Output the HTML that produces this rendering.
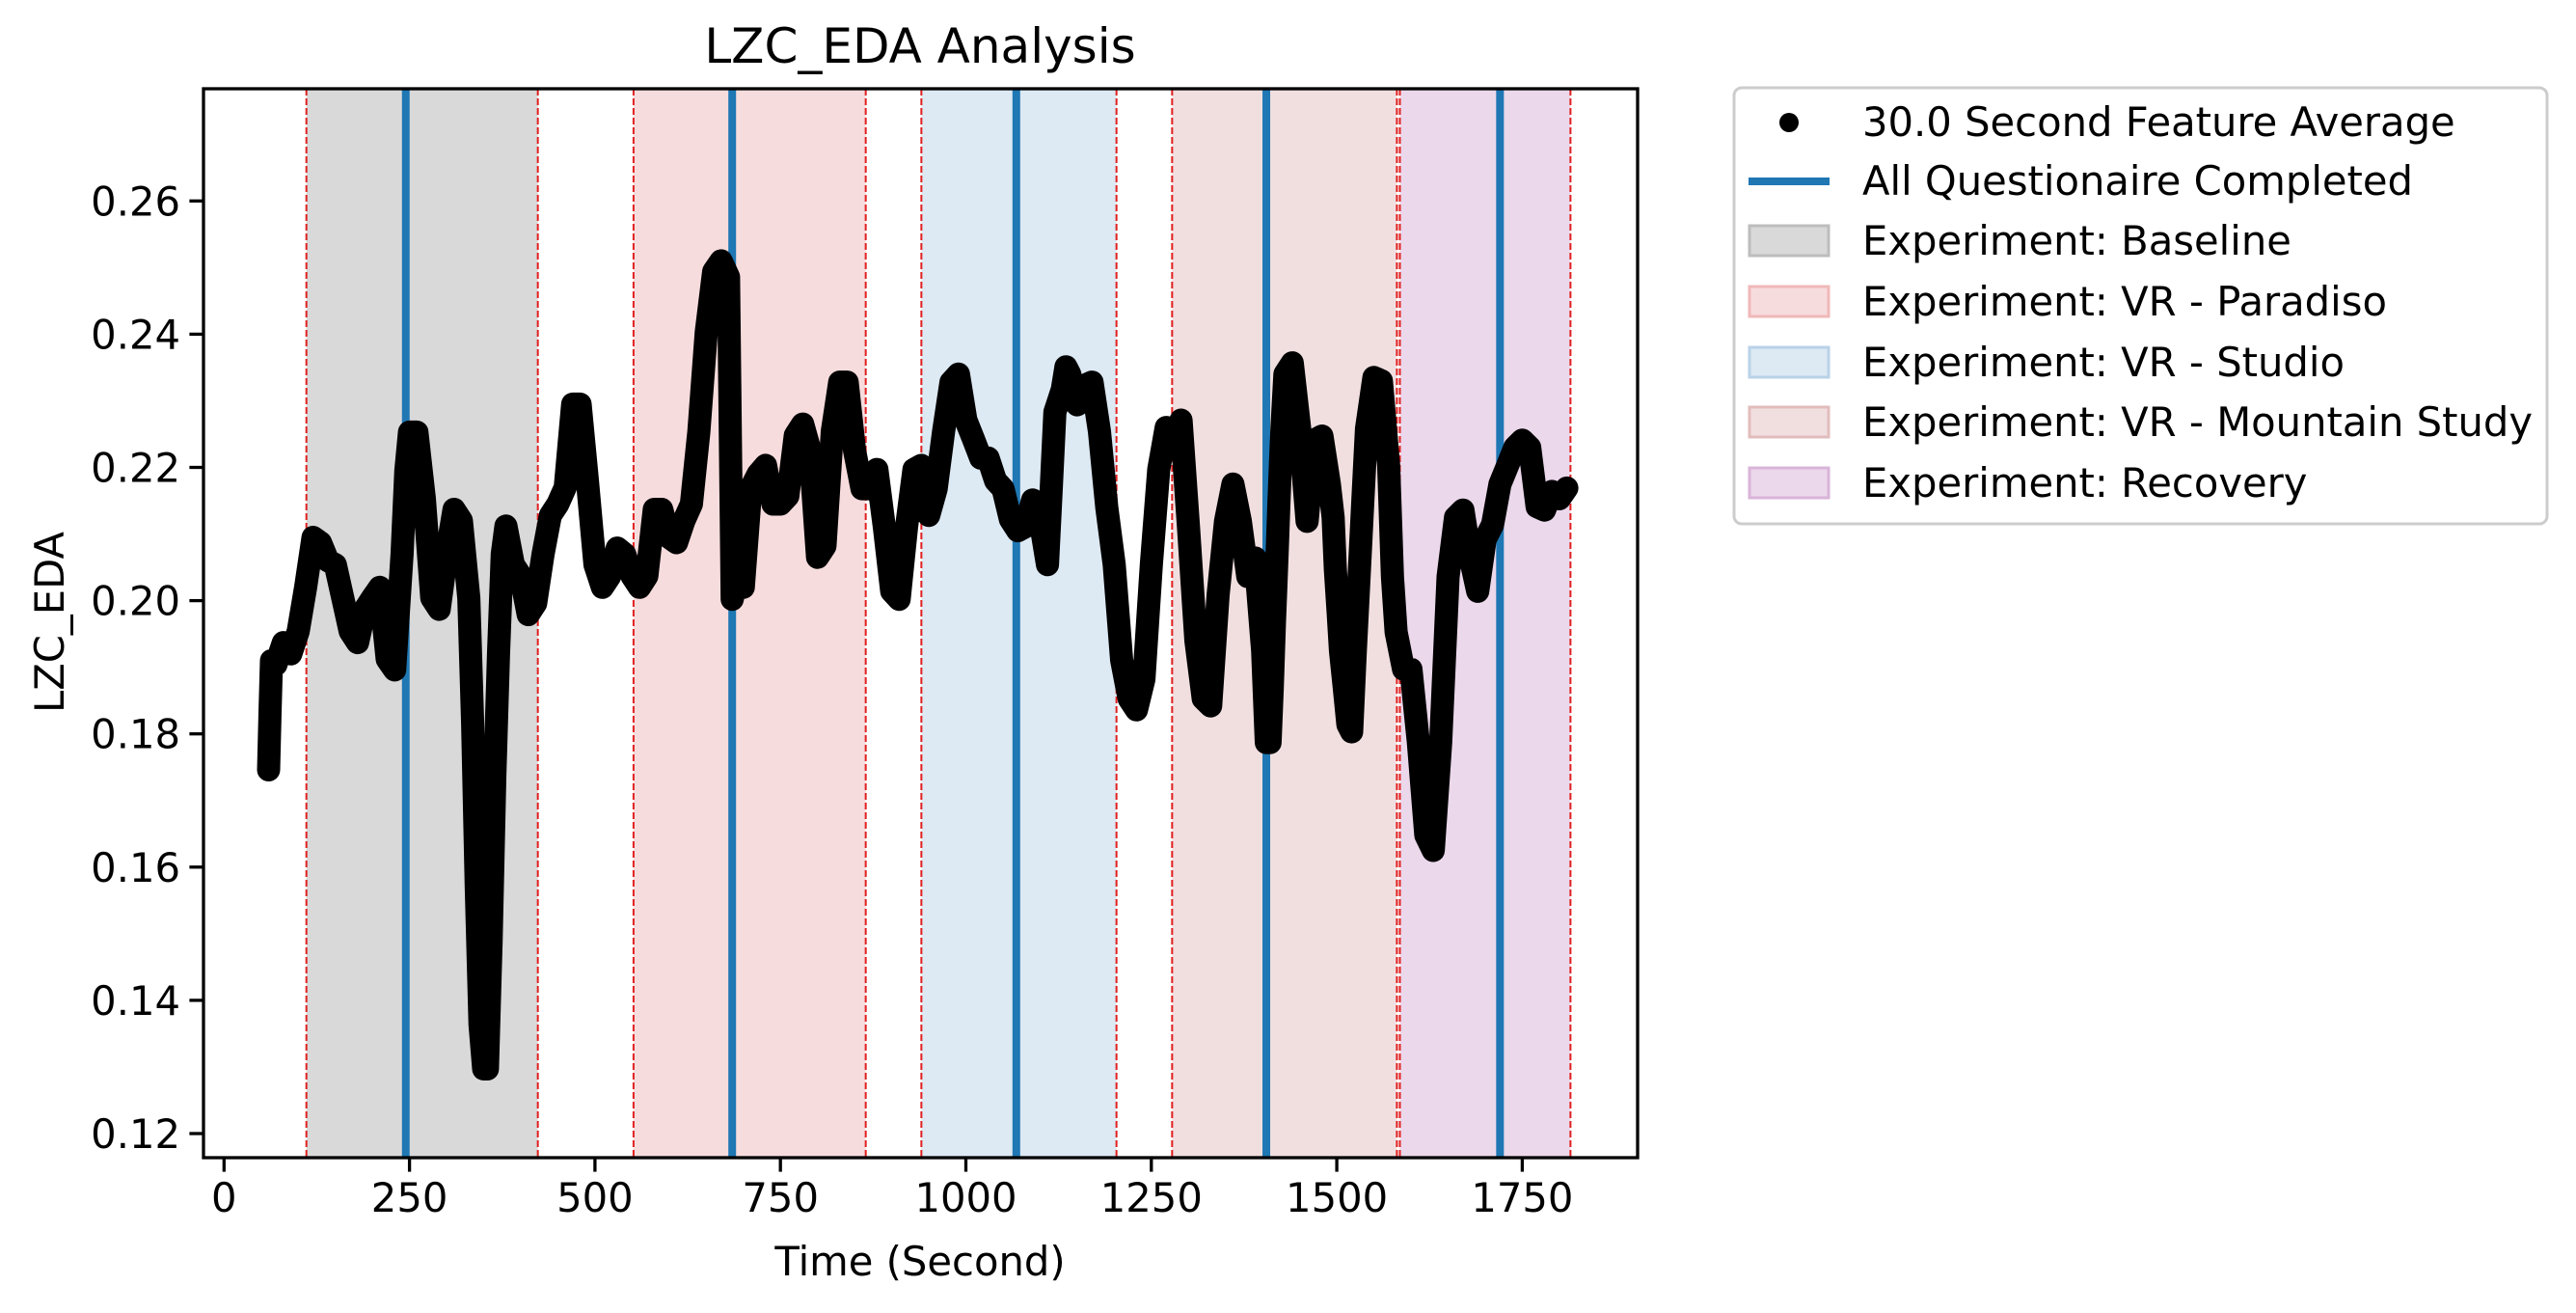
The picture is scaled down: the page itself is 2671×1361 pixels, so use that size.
<!DOCTYPE html>
<html><head><meta charset="utf-8"><style>
html,body{margin:0;padding:0;background:#fff;}
svg{display:block;font-family:"DejaVu Sans","Liberation Sans",sans-serif;}
</style></head><body>
<svg id="chart" width="2671" height="1361" viewBox="0 0 2671 1361" xmlns="http://www.w3.org/2000/svg">
<rect width="2671" height="1361" fill="#fff"/>
<g id="regions"></g><g id="vlines"></g><g id="dots"></g><g id="axes"></g>
<text x="954" y="65" font-size="50" text-anchor="middle">LZC_EDA Analysis</text>
<text x="954" y="1322" font-size="41.7" text-anchor="middle">Time (Second)</text>
<text x="0" y="0" font-size="41.7" text-anchor="middle" transform="translate(66,645) rotate(-90)">LZC_EDA</text>
<g id="legend">
<rect x="1798" y="91" width="843" height="452" rx="8" fill="#fff" stroke="#cccccc" stroke-width="3"/>
<circle cx="1855" cy="127" r="10" fill="#000"/>
<text x="1931" y="141" font-size="41.7">30.0 Second Feature Average</text>
<line x1="1813" y1="188" x2="1897" y2="188" stroke="#1f77b4" stroke-width="8"/>
<text x="1931" y="202" font-size="41.7">All Questionaire Completed</text>
<rect x="1814" y="234" width="82" height="31" fill="#d9d9d9" stroke="#bdbdbd" stroke-width="3"/>
<text x="1931" y="264" font-size="41.7">Experiment: Baseline</text>
<rect x="1814" y="297" width="82" height="31" fill="#f7dcdd" stroke="#f0b8b8" stroke-width="3"/>
<text x="1931" y="327" font-size="41.7">Experiment: VR - Paradiso</text>
<rect x="1814" y="360" width="82" height="31" fill="#dde9f3" stroke="#b9d2e8" stroke-width="3"/>
<text x="1931" y="390" font-size="41.7">Experiment: VR - Studio</text>
<rect x="1814" y="422" width="82" height="31" fill="#f1dfe0" stroke="#e2bcbc" stroke-width="3"/>
<text x="1931" y="452" font-size="41.7">Experiment: VR - Mountain Study</text>
<rect x="1814" y="485" width="82" height="31" fill="#ebd8eb" stroke="#d9b4d9" stroke-width="3"/>
<text x="1931" y="515" font-size="41.7">Experiment: Recovery</text>
</g>
</svg>
<script>
const times = [60,62,64,70,80,90,100,110,120,130,140,150,160,170,180,190,200,210,220,230,240,245,250,260,270,280,290,300,310,320,330,335,340,345,350,355,360,365,370,375,380,390,400,410,420,430,440,450,460,470,480,490,500,510,520,530,540,550,560,570,580,590,600,610,620,630,640,650,660,670,680,685,690,700,710,720,730,740,750,760,770,780,790,800,810,820,830,840,850,860,870,880,890,900,910,920,930,940,950,960,970,980,990,1000,1010,1020,1030,1040,1050,1060,1070,1080,1090,1100,1110,1115,1120,1130,1135,1140,1150,1160,1170,1180,1190,1200,1210,1220,1230,1240,1250,1260,1270,1280,1290,1300,1310,1320,1330,1340,1350,1360,1370,1380,1390,1400,1405,1410,1413,1416,1418,1420,1422,1424,1426,1430,1440,1450,1460,1470,1480,1490,1495,1498,1502,1505,1510,1515,1520,1525,1530,1535,1540,1550,1560,1570,1575,1580,1590,1600,1610,1620,1630,1640,1650,1660,1670,1680,1690,1700,1710,1720,1730,1740,1750,1760,1770,1780,1790,1800,1810];
const values = [0.1746,0.1833,0.191,0.1904,0.1937,0.192,0.1954,0.202,0.2095,0.2087,0.206,0.2054,0.2004,0.1954,0.1937,0.1987,0.2004,0.202,0.1912,0.1896,0.207,0.2195,0.2253,0.2253,0.2153,0.2004,0.1987,0.207,0.2137,0.212,0.2004,0.182,0.1571,0.1364,0.1297,0.1297,0.1488,0.1738,0.192,0.207,0.2112,0.2054,0.2037,0.1979,0.1996,0.207,0.2128,0.2145,0.217,0.2295,0.2295,0.2178,0.2054,0.202,0.2037,0.2079,0.207,0.2037,0.202,0.2037,0.2137,0.2137,0.2095,0.2087,0.212,0.2145,0.2253,0.2403,0.2494,0.251,0.2486,0.2002,0.2025,0.202,0.2168,0.219,0.2203,0.2145,0.2145,0.2157,0.2248,0.2265,0.2225,0.2065,0.2082,0.2254,0.2328,0.2328,0.2225,0.2168,0.2168,0.2197,0.2111,0.2014,0.2002,0.2111,0.2197,0.2203,0.2128,0.2168,0.2254,0.2328,0.234,0.2271,0.2243,0.2214,0.2214,0.218,0.2168,0.2122,0.2105,0.2111,0.2151,0.2122,0.2054,0.2168,0.2283,0.2317,0.2351,0.234,0.2294,0.2323,0.2328,0.2254,0.214,0.2054,0.1911,0.1853,0.1836,0.1882,0.2054,0.2197,0.226,0.2248,0.2271,0.2111,0.194,0.1853,0.1842,0.2008,0.2119,0.2175,0.2119,0.2036,0.2064,0.1925,0.1787,0.1787,0.187,0.197,0.2025,0.2086,0.2147,0.2202,0.2258,0.234,0.2357,0.2258,0.2119,0.2241,0.2247,0.2175,0.2125,0.2047,0.198,0.1925,0.187,0.1814,0.1803,0.1925,0.2036,0.2147,0.2258,0.2335,0.233,0.2202,0.2036,0.1953,0.1897,0.1897,0.1787,0.1648,0.1625,0.1787,0.2036,0.2125,0.2136,0.2064,0.2014,0.2092,0.2114,0.2175,0.2202,0.223,0.2241,0.223,0.2141,0.2136,0.2164,0.2153,0.2169];
const regionNames = ["baseline","paradiso","studio","mountain-study","recovery"];
const regionStart = [111,552,940,1278,1585];
const regionEnd = [423,865,1203,1581,1815];
const regionColors = ["#d9d9d9","#f7dcdd","#dde9f3","#f1dfe0","#ebd8eb"];
const questionnaireTimes = [245,685,1068,1405,1720];
const xTicks = [0,250,500,750,1000,1250,1500,1750];
const yTicks = [0.12,0.14,0.16,0.18,0.20,0.22,0.24,0.26];
const yTickLabels = ["0.12","0.14","0.16","0.18","0.20","0.22","0.24","0.26"];

const L=211,R=1698,T=92,B=1200;
const X = t => 232.3 + t*0.7692;
const Y = v => 1175 - (v-0.12)*6905;
const NS="http://www.w3.org/2000/svg";
function mk(tag, attrs, parent){const e=document.createElementNS(NS,tag);for(const k in attrs)e.setAttribute(k,attrs[k]);parent.appendChild(e);return e;}
const gR=document.getElementById('regions'), gV=document.getElementById('vlines'), gD=document.getElementById('dots'), gA=document.getElementById('axes');
regionStart.forEach((s,i)=>{
  const r=mk('rect',{x:X(s),y:T,width:X(regionEnd[i])-X(s),height:B-T,fill:regionColors[i]},gR);
  
  
  [s,regionEnd[i]].forEach(t=>{
    const l=mk('line',{x1:X(t),x2:X(t),y1:T,y2:B,stroke:'#e02020','stroke-width':2,'stroke-dasharray':'7,3'},gR);
    
    
  });
});
questionnaireTimes.forEach(t=>{
  const l=mk('line',{x1:X(t),x2:X(t),y1:T,y2:B,stroke:'#1f77b4','stroke-width':8},gV);
  
  
});
const pts = times.map((t,i)=>X(t).toFixed(1)+','+Y(values[i]).toFixed(1)).join(' ');
const band = mk('polyline',{points:pts,fill:'none',stroke:'#000','stroke-width':24,'stroke-linejoin':'round','stroke-linecap':'round'},gD);


times.forEach((t,i)=>{
  const c=mk('circle',{cx:X(t),cy:Y(values[i]),r:11,fill:'#000'},gD);
  
  
});
const frame=mk('rect',{x:L,y:T,width:R-L,height:B-T,fill:'none',stroke:'#000','stroke-width':3.3},gA);


xTicks.forEach(t=>{
  mk('line',{x1:X(t),x2:X(t),y1:B,y2:B+14.6,stroke:'#000','stroke-width':3.3},gA);
  const tx=mk('text',{x:X(t),y:B+56,'font-size':41.7,'text-anchor':'middle'},gA);
  tx.textContent=String(t);
  
  
});
yTicks.forEach((v,i)=>{
  mk('line',{x1:L-14.6,x2:L,y1:Y(v),y2:Y(v),stroke:'#000','stroke-width':3.3},gA);
  const tx=mk('text',{x:L-24,y:Y(v)+15,'font-size':41.7,'text-anchor':'end'},gA);
  tx.textContent=yTickLabels[i];
  
  
});
</script>
</body></html>
